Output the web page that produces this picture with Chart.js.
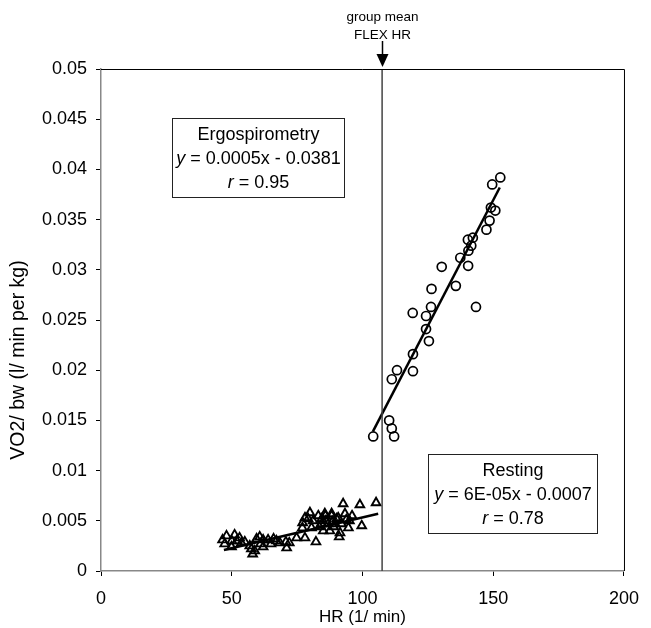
<!DOCTYPE html>
<html lang="en">
<head>
<meta charset="UTF-8">
<title>VO2/bw vs HR</title>
<script src="https://cdn.jsdelivr.net/npm/chart.js"></script>
<style>
  body { margin: 0; background: #fff; }
  #wrap { width: 651px; height: 628px; }
</style>
</head>
<body>
<div id="wrap"><canvas id="chart" width="651" height="628"></canvas></div>
<script>
// axis ticks
const xTicks = [0, 50, 100, 150, 200];
const yTicks = [0, 0.005, 0.01, 0.015, 0.02, 0.025, 0.03, 0.035, 0.04, 0.045, 0.05];

// Ergospirometry measurements (circles)
const ergoHR  = [152.7, 149.6, 149.1, 150.8, 148.6, 147.4, 140.3, 142.2, 141.6, 140.5, 137.4, 140.4, 130.3, 135.7, 126.4,
                 143.4, 126.2, 119.2, 124.3, 124.3, 125.4, 119.3, 119.3, 113.2, 111.2, 110.2, 111.2, 112.1, 104.1];
const ergoVO2 = [0.0392, 0.0385, 0.0362, 0.0359, 0.0349, 0.0340, 0.0330, 0.0332, 0.0324, 0.0319, 0.0312, 0.0304, 0.0303, 0.0284, 0.0281,
                 0.0263, 0.0263, 0.0257, 0.0254, 0.0241, 0.0229, 0.0216, 0.0199, 0.0200, 0.0191, 0.0150, 0.0142, 0.0134, 0.0134];

// Resting measurements (triangles)
const restHR  = [48.0, 51.1, 47.3, 49.9, 53.7, 51.9, 56.9, 58.8, 58.0, 59.5, 60.7, 62.0, 63.9, 67.1, 68.4, 71.0, 70.7, 74.8,
                 78.0, 77.1, 79.9, 79.2, 81.1, 82.2, 84.4, 85.0, 86.9, 88.2, 90.1, 91.1, 92.6, 93.3, 94.6, 99.0, 99.7, 105.2,
                 83.1, 85.6, 88.2, 90.7, 84.4, 89.5, 92.0, 80.5, 87.5, 91.4, 78.0, 95.0, 96.0, 86.0, 77.0, 72.0, 65.0, 62.0, 55.0, 50.0,
                 46.5, 53.0, 57.5, 61.0, 66.0, 83.5, 88.5, 93.8, 89.0, 85.8];
const restVO2 = [0.0035, 0.0036, 0.0027, 0.0024, 0.0028, 0.0030, 0.0025, 0.0020, 0.0017, 0.0032, 0.0034, 0.0031, 0.0031, 0.0030, 0.0028, 0.0023, 0.0029, 0.0033,
                 0.0033, 0.0048, 0.0058, 0.0052, 0.0050, 0.0029, 0.0052, 0.0040, 0.0047, 0.0055, 0.0052, 0.0034, 0.0067, 0.0057, 0.0043, 0.0066, 0.0045, 0.0068,
                 0.0055, 0.0057, 0.0057, 0.0053, 0.0047, 0.0047, 0.0047, 0.0043, 0.0040, 0.0038, 0.0053, 0.0050, 0.0055, 0.0050, 0.0043, 0.0028, 0.0027, 0.0024, 0.0029, 0.0030,
                 0.0031, 0.0033, 0.0022, 0.0027, 0.0032, 0.0044, 0.0049, 0.0051, 0.0044, 0.0055];

// regression line end points
const ergoLineHR  = [104, 152.5];
const ergoLineVO2 = [0.0139, 0.0382];
const restLineHR  = [47, 106];
const restLineVO2 = [0.0021, 0.0057];

// group mean FLEX HR
const flexHR = 107.5;

const FONT = 'Arial, "Liberation Sans", sans-serif';

function pts(xs, ys) {
  return xs.map((x, i) => ({ x: x, y: ys[i] }));
}

// boxes, arrow, frame and y title
const extras = {
  id: 'extras',
  afterDraw(chart) {
    const ctx = chart.ctx;
    const a = chart.chartArea;
    const xs = chart.scales.x, ys = chart.scales.y;
    ctx.save();

    // top and right frame
    ctx.strokeStyle = '#000';
    ctx.lineWidth = 1;
    ctx.beginPath();
    ctx.moveTo(a.left, a.top + 0.5);
    ctx.lineTo(a.right + 0.5, a.top + 0.5);
    ctx.lineTo(a.right + 0.5, a.bottom);
    ctx.stroke();

    // arrow + label for FLEX HR
    const fx = Math.round(xs.getPixelForValue(flexHR)) + 0.5;
    ctx.fillStyle = '#000';
    ctx.lineWidth = 1.5;
    ctx.beginPath();
    ctx.moveTo(fx, a.top - 28);
    ctx.lineTo(fx, a.top - 10);
    ctx.stroke();
    ctx.beginPath();
    ctx.moveTo(fx - 6, a.top - 15);
    ctx.lineTo(fx + 6, a.top - 15);
    ctx.lineTo(fx, a.top - 2);
    ctx.closePath();
    ctx.fill();
    ctx.font = '13.5px ' + FONT;
    ctx.textAlign = 'center';
    ctx.textBaseline = 'middle';
    ctx.fillText('group mean', fx, 17);
    ctx.fillText('FLEX HR', fx, 35);

    // text boxes
    function box(x0, x1, y0, y1, lines) {
      const l = Math.round(xs.getPixelForValue(x0)) + 0.5;
      const r = Math.round(xs.getPixelForValue(x1)) + 0.5;
      const t = Math.round(ys.getPixelForValue(y0)) + 0.5;
      const b = Math.round(ys.getPixelForValue(y1)) + 0.5;
      ctx.fillStyle = '#fff';
      ctx.fillRect(l, t, r - l, b - t);
      ctx.strokeStyle = '#222';
      ctx.lineWidth = 1;
      ctx.strokeRect(l, t, r - l, b - t);
      ctx.fillStyle = '#000';
      ctx.textBaseline = 'middle';
      ctx.textAlign = 'left';
      const cx = (l + r) / 2;
      const step = (b - t) / 3.3;
      lines.forEach((parts, i) => {
        let w = 0;
        parts.forEach(p => { ctx.font = (p.it ? 'italic ' : '') + '18px ' + FONT; w += ctx.measureText(p.t).width; });
        let x = cx - w / 2;
        const y = t + step * (0.68 + i);
        parts.forEach(p => {
          ctx.font = (p.it ? 'italic ' : '') + '18px ' + FONT;
          ctx.fillText(p.t, x, y);
          x += ctx.measureText(p.t).width;
        });
      });
    }
    box(27, 93, 0.0451, 0.0373, [
      [{ t: 'Ergospirometry' }],
      [{ t: 'y', it: true }, { t: ' = 0.0005x - 0.0381' }],
      [{ t: 'r', it: true }, { t: ' = 0.95' }]
    ]);
    box(125, 189.5, 0.0117, 0.0038, [
      [{ t: 'Resting' }],
      [{ t: 'y', it: true }, { t: ' = 6E-05x - 0.0007' }],
      [{ t: 'r', it: true }, { t: ' = 0.78' }]
    ]);

    // y axis title
    ctx.translate(19, 360);
    ctx.rotate(-Math.PI / 2);
    ctx.font = '19.5px ' + FONT;
    ctx.textAlign = 'center';
    ctx.textBaseline = 'middle';
    ctx.fillText('VO2/ bw (l/ min per kg)', 0, 0);
    ctx.restore();
  }
};

new Chart(document.getElementById('chart'), {
  type: 'scatter',
  data: {
    datasets: [
      {
        label: 'FLEX HR',
        type: 'line',
        data: [{ x: flexHR, y: yTicks[0] }, { x: flexHR, y: yTicks[yTicks.length - 1] }],
        borderColor: '#444',
        borderWidth: 1.5,
        pointRadius: 0
      },
      {
        label: 'Ergospirometry',
        data: pts(ergoHR, ergoVO2),
        pointStyle: 'circle',
        pointRadius: 4.5,
        borderColor: '#000',
        borderWidth: 1.7,
        backgroundColor: 'rgba(255,255,255,0)'
      },
      {
        label: 'Resting',
        data: pts(restHR, restVO2),
        pointStyle: 'triangle',
        pointRadius: 5,
        borderColor: '#000',
        borderWidth: 1.9,
        backgroundColor: 'rgba(255,255,255,0)'
      },
      {
        label: 'Ergo fit',
        type: 'line',
        data: pts(ergoLineHR, ergoLineVO2),
        borderColor: '#000',
        borderWidth: 2.5,
        pointRadius: 0
      },
      {
        label: 'Rest fit',
        type: 'line',
        data: pts(restLineHR, restLineVO2),
        borderColor: '#000',
        borderWidth: 2.5,
        pointRadius: 0
      }
    ]
  },
  options: {
    responsive: false,
    animation: false,
    devicePixelRatio: 1,
    layout: { padding: { top: 69, right: 26, left: 0, bottom: 0 } },
    plugins: {
      legend: { display: false },
      tooltip: { enabled: false }
    },
    scales: {
      x: {
        type: 'linear',
        min: 0,
        max: 200,
        afterBuildTicks: s => { s.ticks = xTicks.map(v => ({ value: v })); },
        afterFit: s => { s.height = 57; },
        grid: { drawOnChartArea: false, drawTicks: true, tickLength: 5, color: '#000' },
        border: { color: '#888', width: 1.5 },
        ticks: { color: '#000', font: { family: FONT, size: 18 }, padding: 12, maxRotation: 0, autoSkip: false },
        title: { display: true, text: 'HR (1/ min)', color: '#000', font: { family: FONT, size: 17 }, padding: { top: 0, bottom: 0 } }
      },
      y: {
        type: 'linear',
        min: 0,
        max: 0.05,
        afterBuildTicks: s => { s.ticks = yTicks.map(v => ({ value: v })); },
        afterFit: s => { s.width = 101; },
        grid: { drawOnChartArea: false, drawTicks: true, tickLength: 5, color: '#000' },
        border: { color: '#888', width: 1.5 },
        ticks: { color: '#000', font: { family: FONT, size: 18 }, padding: 9, callback: v => String(v) }
      }
    }
  },
  plugins: [extras]
});
</script>
</body>
</html>
